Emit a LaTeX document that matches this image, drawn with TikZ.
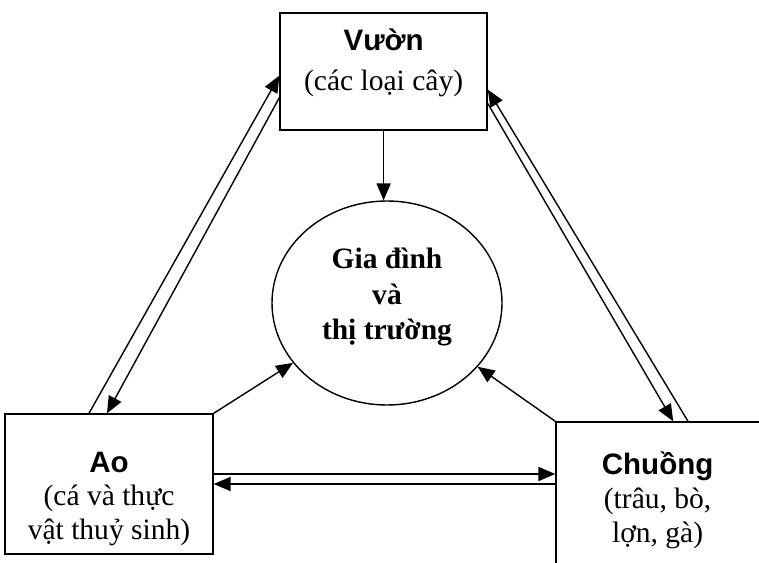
\documentclass[tikz,border=0pt]{standalone}
\usepackage{fontspec}
\setmainfont{Liberation Serif}
\setsansfont{Liberation Sans}
\usetikzlibrary{arrows.meta,shapes.geometric,positioning}

\begin{document}
\begin{tikzpicture}[>={Triangle[length=12pt,width=10pt]}, line width=1pt,
  box/.style={draw, minimum width=5.2cm, minimum height=3.5cm, inner sep=0pt},
  txt/.style={align=center, font=\fontsize{21}{24}\selectfont},
  head/.style={font=\sffamily\bfseries}]
\useasboundingbox (0,0) rectangle (18.975,14.05);
\clip (0,0) rectangle (18.975,14.05);

% the three parts of the farm
\node[box, minimum width=5.175cm, minimum height=2.925cm] (vuon) at (9.59,12.26) {};
\node[box] (ao) at (2.725,1.95) {};
\node[box, minimum height=3.6cm] (chuong) at (16.5,1.7) {};
\node[txt, font=\fontsize{21}{28}\selectfont] (vuonlbl) at ([yshift=0.22cm]vuon.center)
  {{\sffamily\bfseries Vườn}\\(các loại cây)};
\node[txt] (aolbl) at ([yshift=-0.37cm]ao.center)
  {{\sffamily\bfseries Ao}\\(cá và thực\\vật thuỷ sinh)};
\node[txt] (chuonglbl) at ([xshift=-0.06cm,yshift=-0.16cm]chuong.center)
  {{\sffamily\bfseries Chuồng}\\(trâu, bò,\\lợn, gà)};

% family and market in the middle
\node[ellipse, draw, minimum width=5.75cm, minimum height=5.1cm, inner sep=0pt] (nha) at (9.675,6.475) {};
\node[txt, font=\fontsize{21}{25}\selectfont\bfseries] (nhalbl) at ([yshift=0.15cm]nha.center)
  {Gia đình\\và\\thị trường};

% everything goes to the family
\draw[->] (vuon.south) -- (vuon.south |- nha.north);
\draw[->] (ao.north east) -- (nha);
\draw[->] (chuong.north west) -- (nha);

% Ao <-> Vuon
\draw[->] ([xshift=-0.5cm]ao.north) -- ([yshift=-0.1cm]vuon.west);
\draw[->] ([yshift=-0.65cm]vuon.west) -- ([xshift=-0.05cm]ao.north);

% Chuong <-> Vuon
\draw[->] ([xshift=0.7cm]chuong.north) -- ([yshift=-0.45cm]vuon.east);
\draw[->] ([yshift=-0.8cm]vuon.east) -- ([xshift=0.33cm]chuong.north);

% Ao <-> Chuong
\coordinate (aohi) at ([yshift=0.25cm]ao.east);
\draw[->] (aohi) -- (aohi -| chuong.west);
\draw[->] (ao.east -| chuong.west) -- (ao.east);
\end{tikzpicture}
\end{document}
